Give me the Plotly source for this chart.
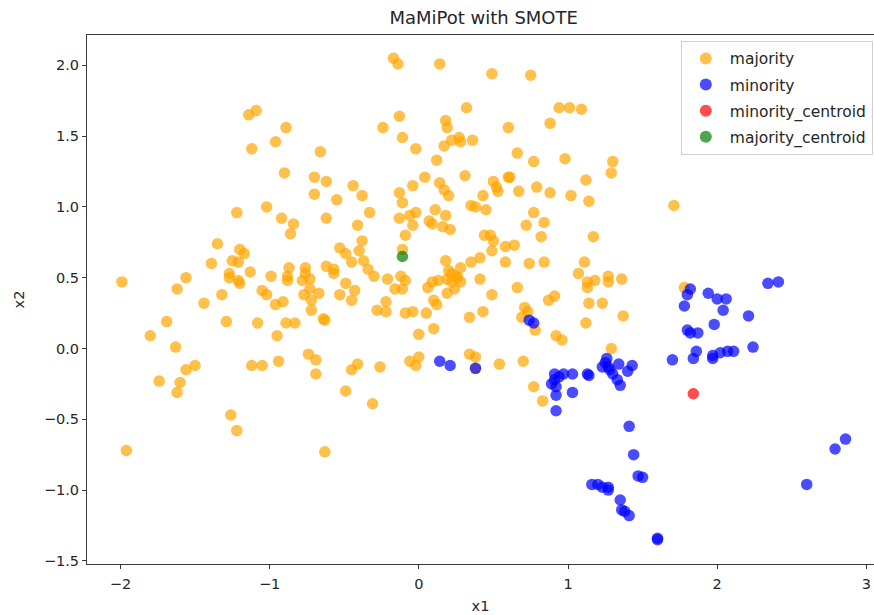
import plotly.graph_objects as go

# ---- data (x1, x2) ----
majority_points = [
    (-1.14, 1.65), (-1.09, 1.68), (-0.89, 1.56), (-0.96, 1.46), (-1.12, 1.41), (-0.66, 1.39),
    (-0.90, 1.24), (-0.70, 1.21), (-0.62, 1.18), (-0.70, 1.09), (-0.55, 1.05), (-1.22, 0.96),
    (-1.02, 1.00), (-0.92, 0.92), (-0.84, 0.88), (-0.62, 0.92),
    (-0.17, 2.05), (-0.14, 2.01), (0.14, 2.01), (0.49, 1.94), (0.75, 1.93), (0.32, 1.70),
    (-0.13, 1.64), (-0.24, 1.56), (0.18, 1.61), (0.19, 1.56), (0.60, 1.56), (0.88, 1.59),
    (0.94, 1.70), (1.01, 1.70), (1.09, 1.69), (-0.11, 1.49), (-0.02, 1.41), (0.17, 1.43),
    (0.22, 1.47), (0.27, 1.49), (0.28, 1.46), (0.36, 1.47), (0.12, 1.33), (0.66, 1.38),
    (0.77, 1.32), (0.98, 1.34), (-0.44, 1.15), (-0.38, 1.08), (-0.33, 0.96), (-0.41, 0.87),
    (-0.13, 1.10), (-0.11, 1.03), (-0.04, 1.15), (0.04, 1.21), (0.14, 1.17), (0.17, 1.12),
    (0.20, 1.08), (0.31, 1.22), (0.50, 1.18), (0.52, 1.14), (0.53, 1.11), (0.60, 1.21),
    (0.61, 1.21), (0.67, 1.11), (0.79, 1.14), (0.88, 1.10), (1.02, 1.08), (1.12, 1.19),
    (1.14, 1.04), (0.43, 1.08), (0.35, 1.01), (0.38, 1.00), (0.45, 0.98), (0.11, 0.98),
    (0.18, 0.94), (-0.13, 0.92), (-0.06, 0.94), (-0.02, 0.96), (-0.04, 0.87), (0.07, 0.90),
    (0.09, 0.88), (0.16, 0.86), (0.21, 0.84), (0.77, 0.96), (0.72, 0.87), (0.84, 0.89),
    (0.44, 0.80), (0.48, 0.80),
    (1.30, 1.32), (1.29, 1.24), (1.71, 1.01),
    (-1.99, 0.47), (-1.56, 0.50), (-1.62, 0.42), (-1.44, 0.32), (-1.69, 0.19), (-1.80, 0.09),
    (-1.63, 0.01), (-1.50, -0.12), (-1.56, -0.15), (-1.74, -0.23), (-1.60, -0.24), (-1.62, -0.31),
    (-1.26, -0.47), (-1.35, 0.74), (-1.39, 0.60), (-1.20, 0.70), (-1.17, 0.67), (-1.25, 0.62),
    (-1.21, 0.61), (-1.27, 0.53), (-1.27, 0.50), (-1.21, 0.48), (-1.20, 0.46), (-1.13, 0.54),
    (-1.32, 0.38), (-1.29, 0.19), (-1.08, 0.18), (-1.05, 0.41), (-1.02, 0.38), (-0.96, 0.31),
    (-0.91, 0.33), (-0.99, 0.51), (-0.87, 0.57), (-0.88, 0.51), (-0.88, 0.48), (-0.86, 0.81),
    (-0.76, 0.57), (-0.76, 0.53), (-0.78, 0.48), (-0.73, 0.49), (-0.73, 0.42), (-0.67, 0.39),
    (-0.77, 0.38), (-0.72, 0.34), (-0.72, 0.27), (-0.62, 0.58), (-0.57, 0.56), (-0.57, 0.53),
    (-0.53, 0.71), (-0.53, 0.38), (-0.89, 0.18), (-0.83, 0.18), (-0.64, 0.21), (-0.63, 0.20),
    (-0.95, 0.09), (-0.74, -0.04), (-0.69, -0.08), (-0.69, -0.18), (-0.94, -0.09), (-1.12, -0.12),
    (-1.05, -0.12),
    (-0.09, 0.80), (0.50, 0.76), (0.49, 0.69), (0.58, 0.72), (0.64, 0.73), (0.82, 0.79),
    (0.58, 0.61), (0.74, 0.60), (0.84, 0.61), (1.11, 0.61), (1.07, 0.53), (1.13, 0.47),
    (1.13, 0.43), (1.14, 0.32), (1.12, 0.18), (-0.38, 0.76), (-0.40, 0.69), (-0.49, 0.67),
    (-0.45, 0.61), (-0.37, 0.62), (-0.34, 0.56), (-0.30, 0.51), (-0.49, 0.46), (-0.43, 0.41),
    (-0.45, 0.34), (-0.21, 0.49), (-0.11, 0.70), (-0.12, 0.51), (-0.09, 0.48), (-0.16, 0.42),
    (-0.11, 0.42), (-0.22, 0.33), (-0.28, 0.27), (-0.22, 0.26), (-0.09, 0.25), (-0.04, 0.26),
    (0.05, 0.25), (0.18, 0.62), (0.06, 0.43), (0.09, 0.47), (0.13, 0.48), (0.22, 0.53),
    (0.19, 0.49), (0.25, 0.51), (0.28, 0.47), (0.22, 0.47), (0.24, 0.42), (0.19, 0.39),
    (0.28, 0.57), (0.20, 0.55), (0.26, 0.50), (0.35, 0.61), (0.41, 0.64), (0.41, 0.49),
    (0.10, 0.34), (0.12, 0.31), (0.49, 0.38), (0.43, 0.26), (0.34, 0.22), (0.66, 0.43),
    (0.87, 0.34), (0.91, 0.37), (0.71, 0.29), (0.73, 0.26), (0.69, 0.22), (0.78, 0.13),
    (0.10, 0.14), (0.00, 0.10), (0.92, 0.09), (0.96, 0.06), (0.34, -0.04), (0.38, -0.06),
    (0.38, -0.14), (0.54, -0.11), (0.70, -0.09), (0.00, -0.06), (-0.06, -0.09), (-0.02, -0.12),
    (-0.41, -0.11), (-0.45, -0.15), (-0.26, -0.13), (-0.49, -0.30), (-0.31, -0.39), (0.77, -0.27),
    (0.83, -0.37),
    (1.17, 0.79), (1.18, 0.48), (1.27, 0.51), (1.27, 0.47), (1.36, 0.49), (1.23, 0.32),
    (1.37, 0.23), (1.29, 0.00), (1.78, 0.43),
    (-1.96, -0.72), (-1.22, -0.58), (-0.63, -0.73),
]

minority_points = [
    (0.74, 0.20), (0.77, 0.18), (0.14, -0.09), (0.21, -0.12), (0.38, -0.14), (0.91, -0.18),
    (0.97, -0.18), (1.03, -0.18), (1.13, -0.18), (0.89, -0.25), (0.92, -0.27), (0.92, -0.33),
    (1.03, -0.31), (0.92, -0.44), (0.94, -0.20), (0.91, -0.22),
    (1.82, 0.42), (1.80, 0.38), (1.78, 0.30), (1.94, 0.39), (2.00, 0.35), (2.06, 0.35),
    (2.04, 0.27), (2.34, 0.46), (2.41, 0.47), (2.21, 0.23), (1.98, 0.17), (1.80, 0.13),
    (1.82, 0.11), (1.87, 0.11), (2.24, 0.01), (1.86, -0.02), (1.84, -0.07), (1.97, -0.05),
    (1.97, -0.07), (2.02, -0.03), (2.07, -0.02), (2.11, -0.02), (1.70, -0.08),
    (1.14, -0.19), (1.23, -0.13), (1.26, -0.07), (1.27, -0.13), (1.30, -0.18), (1.33, -0.22),
    (1.35, -0.26), (1.34, -0.11), (1.40, -0.16), (1.43, -0.12), (1.25, -0.10), (1.28, -0.15),
    (1.41, -0.55), (1.44, -0.75), (1.47, -0.90), (1.50, -0.91), (1.16, -0.96), (1.20, -0.96),
    (1.23, -0.98), (1.27, -0.98), (1.27, -1.00), (1.35, -1.07), (1.36, -1.14), (1.38, -1.15),
    (1.41, -1.18), (1.60, -1.35), (1.60, -1.34), (2.60, -0.96), (2.79, -0.71), (2.86, -0.64),
]

minority_centroid = [(1.84, -0.32)]
majority_centroid = [(-0.11, 0.65)]

series_names = ["majority", "minority", "minority_centroid", "majority_centroid"]
series_colors = ["rgb(255,165,0)", "rgb(0,0,255)", "rgb(255,0,0)", "rgb(0,128,0)"]
series_data = [majority_points, minority_points, minority_centroid, majority_centroid]

title_text = "MaMiPot with SMOTE"
x_label = "x1"
y_label = "x2"

FONT = "DejaVu Sans, Liberation Sans, sans-serif"
TXT = "#262626"
SPINE = "#3a3a3a"

fig = go.Figure()
for name, color, pts in zip(series_names, series_colors, series_data):
    fig.add_trace(go.Scatter(
        x=[p[0] for p in pts],
        y=[p[1] for p in pts],
        mode="markers",
        name=name,
        legendgroup=name,
        marker=dict(size=11.5, color=color, opacity=0.7, line=dict(width=0)),
    ))

fig.update_layout(
    width=874, height=615,
    margin=dict(l=87, r=0, t=35, b=51),
    paper_bgcolor="white", plot_bgcolor="white",
    font=dict(family=FONT, size=14.5, color=TXT),
    title=dict(text=title_text, x=0.504, xref="paper", xanchor="center",
               y=1 - 18 / 615, yref="container", yanchor="middle",
               font=dict(size=18, color=TXT, family=FONT)),
    showlegend=True,
    legend=dict(x=0.9985, y=0.989, xanchor="right", yanchor="top",
                bgcolor="rgba(255,255,255,0.8)", bordercolor="#d0d0d0", borderwidth=1,
                font=dict(size=15.5, color=TXT, family=FONT),
                tracegroupgap=3, itemsizing="constant", itemwidth=38),
)

fig.update_xaxes(
    range=[-2.224, 3.051], showgrid=False, zeroline=False,
    showline=True, linecolor=SPINE, linewidth=1, mirror=True,
    ticks="outside", ticklen=4, tickwidth=1, tickcolor=SPINE,
    tickmode="array", tickvals=[-2, -1, 0, 1, 2, 3],
    ticklabelstandoff=3,
    tickfont=dict(size=14.5, color=TXT, family=FONT),
    title=dict(text=x_label, font=dict(size=14.5, color=TXT, family=FONT), standoff=9),
)
fig.update_yaxes(
    range=[-1.522, 2.214], showgrid=False, zeroline=False,
    showline=True, linecolor=SPINE, linewidth=1, mirror=False,
    ticks="outside", ticklen=4, tickwidth=1, tickcolor=SPINE,
    tickmode="array", tickvals=[-1.5, -1.0, -0.5, 0.0, 0.5, 1.0, 1.5, 2.0],
    ticktext=["\u22121.5", "\u22121.0", "\u22120.5", "0.0", "0.5", "1.0", "1.5", "2.0"],
    tickfont=dict(size=14.5, color=TXT, family=FONT),
    title=dict(text=y_label, font=dict(size=14.5, color=TXT, family=FONT), standoff=15),
)

fig.write_html("out.html")
